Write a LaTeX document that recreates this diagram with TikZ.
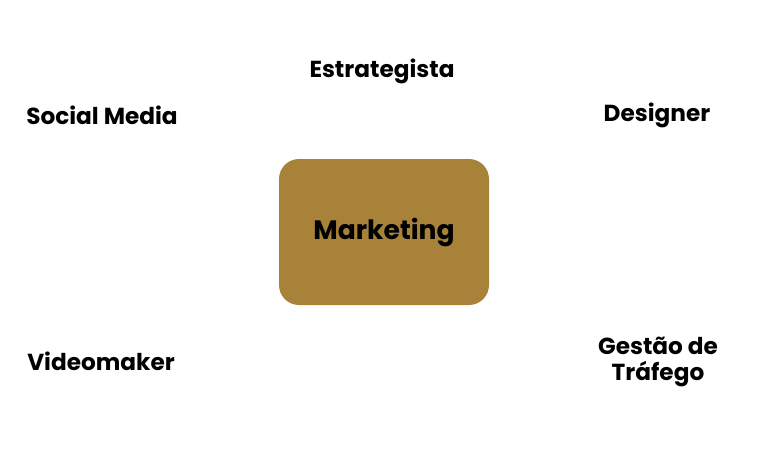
\documentclass[tikz,border=0pt]{standalone}
\usepackage{fontspec}
\setmainfont{Poppins}
\usetikzlibrary{positioning}
\definecolor{boxgold}{HTML}{A88239}

\begin{document}
\begin{tikzpicture}[
  x=0.03cm, y=-0.03cm,
  every node/.style={inner sep=0pt},
  role/.style={font=\fontsize{19.8}{22.5}\selectfont\bfseries, align=center},
  hub/.style={font=\fontsize{22.7}{25}\selectfont\bfseries, fill=boxgold,
    rounded corners=0.6cm, minimum width=6.3cm, minimum height=4.38cm}
]
  \useasboundingbox (0,0) rectangle (768,465);
  \node[hub]  (mkt)   at (384,232) {Marketing};
  \node[role] (estr)  at (382,71)  {Estrategista};
  \node[role] (soc)   at (102,115) {Social Media};
  \node[role] (des)   at (657,115) {Designer};
  \node[role] (video) at (101,361) {Videomaker};
  \node[role] (traf)  at (658,362) {Gestão de\\Tráfego};
\end{tikzpicture}
\end{document}
